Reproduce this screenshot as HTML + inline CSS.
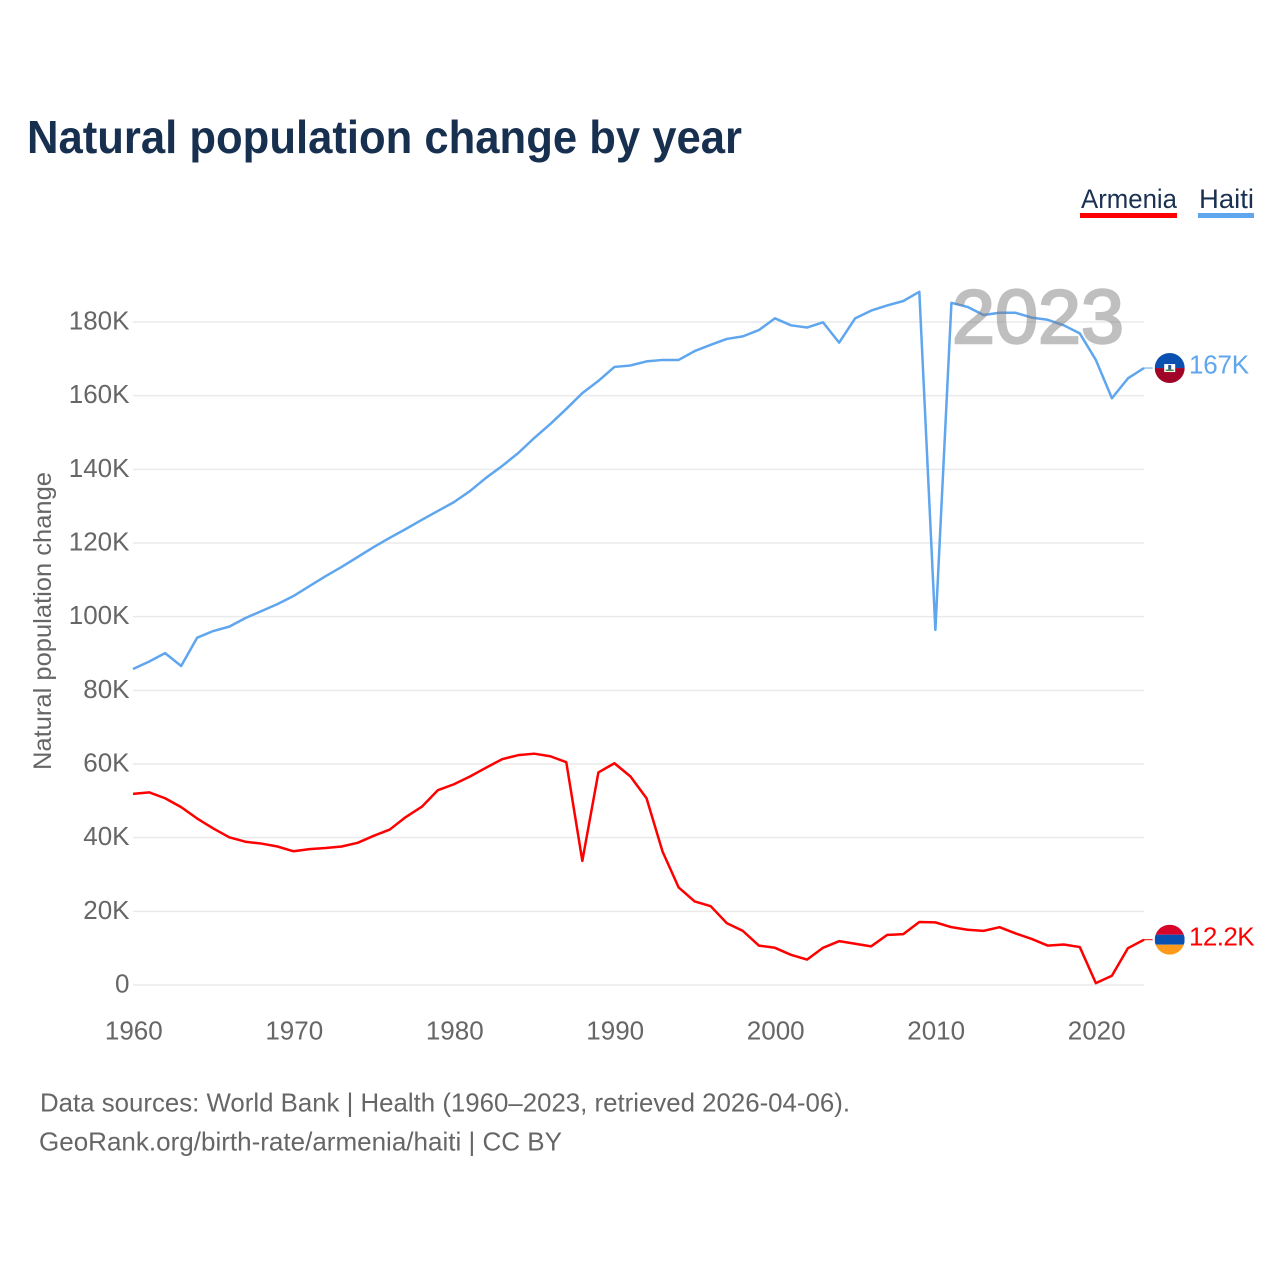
<!DOCTYPE html>
<html lang="en">
<head>
<meta charset="utf-8">
<title>Natural population change by year</title>
<style>
html,body{margin:0;padding:0;background:#fff;}
svg{display:block;font-family:"Liberation Sans",sans-serif;}
</style>
</head>
<body>
<svg id="chart" xmlns="http://www.w3.org/2000/svg" width="1280" height="1280" viewBox="0 0 1280 1280">
  <rect x="0" y="0" width="1280" height="1280" fill="#ffffff"/>
  <text x="27" y="153" font-size="46" font-weight="700" fill="#18304f" textLength="715" lengthAdjust="spacingAndGlyphs">Natural population change by year</text>

  <g>
    <text x="1081" y="208" font-size="27" fill="#1a3152" textLength="96" lengthAdjust="spacingAndGlyphs">Armenia</text>
    <rect x="1080" y="213" width="97" height="5" fill="#ff0000"/>
  </g>
  <g>
    <text x="1199" y="208" font-size="27" fill="#1a3152" textLength="55" lengthAdjust="spacingAndGlyphs">Haiti</text>
    <rect x="1198" y="213" width="56" height="5" fill="#5fa6ee"/>
  </g>

  <g id="grid"></g>
  <g id="ytickLabels"></g>
  <g id="xtickLabels"></g>
  <text transform="translate(51,621) rotate(-90)" text-anchor="middle" font-size="25" fill="#666666" textLength="298" lengthAdjust="spacingAndGlyphs">Natural population change</text>

  <g id="series"></g>
  <text x="952" y="343" font-size="76" fill="#808080" stroke="#808080" stroke-width="2.4" opacity="0.5" textLength="172" lengthAdjust="spacingAndGlyphs">2023</text>
  <g id="endMarkers"></g>

  <text x="40" y="1111.5" font-size="26" fill="#666666" textLength="810" lengthAdjust="spacingAndGlyphs">Data sources: World Bank | Health (1960–2023, retrieved 2026-04-06).</text>
  <text x="39" y="1150.5" font-size="26" fill="#666666" textLength="523" lengthAdjust="spacingAndGlyphs">GeoRank.org/birth-rate/armenia/haiti | CC BY</text>
</svg>
<script>
const years = [1960,1961,1962,1963,1964,1965,1966,1967,1968,1969,1970,1971,1972,1973,1974,1975,1976,1977,1978,1979,1980,1981,1982,1983,1984,1985,1986,1987,1988,1989,1990,1991,1992,1993,1994,1995,1996,1997,1998,1999,2000,2001,2002,2003,2004,2005,2006,2007,2008,2009,2010,2011,2012,2013,2014,2015,2016,2017,2018,2019,2020,2021,2022,2023];
const haitiValues = [85.8,87.8,90.1,86.6,94.3,96.1,97.3,99.6,101.5,103.4,105.6,108.3,111,113.5,116.2,118.9,121.4,123.8,126.3,128.7,131.1,134.1,137.7,140.9,144.4,148.5,152.3,156.4,160.7,164,167.8,168.2,169.3,169.7,169.7,172.1,173.8,175.4,176.1,177.8,181,179.1,178.5,179.9,174.4,181,183.1,184.5,185.7,188.2,96.4,185.2,184.1,181.9,182.5,182.5,181.2,180.6,179.1,176.9,169.7,159.3,164.7,167.5];
const armeniaValues = [51.9,52.3,50.7,48.3,45.2,42.5,40.1,38.9,38.4,37.6,36.3,36.9,37.2,37.6,38.6,40.5,42.2,45.6,48.4,52.9,54.5,56.6,59,61.3,62.4,62.8,62.1,60.5,33.7,57.7,60.2,56.6,50.7,36.2,26.5,22.7,21.4,16.8,14.7,10.7,10.1,8.2,6.9,10.1,11.9,11.2,10.5,13.6,13.8,17.1,17,15.7,15,14.7,15.7,14,12.5,10.7,11,10.3,0.5,2.5,10,12.3];
const yTickValues = [0,20,40,60,80,100,120,140,160,180];
const yTickLabels = ["0","20K","40K","60K","80K","100K","120K","140K","160K","180K"];
const xTickYears = [1960,1970,1980,1990,2000,2010,2020];
const haitiEndLabel = "167K";
const armeniaEndLabel = "12.2K";

const NS = "http://www.w3.org/2000/svg";
function xScale(year){ return 133 + (year - 1960) * (1144 - 133) / 63; }
function yScale(v){ return 985 - v * (985 - 322) / 180; }
function make(tag, attrs, parent, text){
  const el = document.createElementNS(NS, tag);
  for (const k in attrs) el.setAttribute(k, attrs[k]);
  if (text !== undefined) el.textContent = text;
  parent.appendChild(el);
  return el;
}

const grid = document.getElementById("grid");
const yLabels = document.getElementById("ytickLabels");
yTickValues.forEach(function(v, i){
  const line = make("line", {x1:133, x2:1144, y1:yScale(v), y2:yScale(v), stroke:"#eaeaea", "stroke-width":1.5}, grid);
  
  
  const t = make("text", {x:129.5, y:yScale(v)+7.5, "text-anchor":"end", "font-size":26, fill:"#666666"}, yLabels, yTickLabels[i]);
  
  
});

const xLabels = document.getElementById("xtickLabels");
xTickYears.forEach(function(yr){
  const t = make("text", {x:xScale(yr)+0.8, y:1039.5, "text-anchor":"middle", "font-size":26, fill:"#666666"}, xLabels, String(yr));
  
  
});

function linePoints(values){
  return values.map(function(v, i){ return xScale(years[i]).toFixed(2) + "," + yScale(v).toFixed(2); }).join(" ");
}
const seriesGroup = document.getElementById("series");
const armeniaLine = make("polyline", {points:linePoints(armeniaValues), fill:"none", stroke:"#ff0000", "stroke-width":2.5, "stroke-linejoin":"round"}, seriesGroup);


const haitiLine = make("polyline", {points:linePoints(haitiValues), fill:"none", stroke:"#5fa6ee", "stroke-width":2.5, "stroke-linejoin":"round"}, seriesGroup);



const markers = document.getElementById("endMarkers");
const defs = make("defs", {}, markers);
const cx = 1169.7;
const r = 15;
const lastX = xScale(years[years.length - 1]);

function addFlagClip(id, cy){
  const clip = make("clipPath", {id:id}, defs);
  make("circle", {cx:cx, cy:cy, r:r}, clip);
}

// Haiti marker
const hy = yScale(haitiValues[haitiValues.length - 1]);
addFlagClip("clipHaiti", hy);
const hConn = make("line", {x1:lastX, x2:cx-r-2, y1:hy, y2:hy, stroke:"#5fa6ee", "stroke-width":1}, markers);


const hFlag = make("g", {"clip-path":"url(#clipHaiti)"}, markers);


make("rect", {x:cx-r, y:hy-r, width:2*r, height:r, fill:"#0a50b0"}, hFlag);
make("rect", {x:cx-r, y:hy, width:2*r, height:r, fill:"#a00426"}, hFlag);
make("rect", {x:cx-5.5, y:hy-4, width:11, height:8, fill:"#ffffff"}, hFlag);
make("rect", {x:cx-1.5, y:hy-3, width:3, height:4.5, fill:"#2a5a8a"}, hFlag);
make("rect", {x:cx-4, y:hy+1.5, width:8, height:1.5, fill:"#3f8a3a"}, hFlag);
const hLabel = make("text", {x:1189, y:hy+5.5, "font-size":26, fill:"#5fa6ee", "letter-spacing":"-0.2"}, markers, haitiEndLabel);



// Armenia marker
const ay = yScale(armeniaValues[armeniaValues.length - 1]);
addFlagClip("clipArmenia", ay);
const aConn = make("line", {x1:lastX, x2:cx-r-2, y1:ay, y2:ay, stroke:"#ff0000", "stroke-width":1}, markers);


const aFlag = make("g", {"clip-path":"url(#clipArmenia)"}, markers);


make("rect", {x:cx-r, y:ay-r, width:2*r, height:10, fill:"#d90429"}, aFlag);
make("rect", {x:cx-r, y:ay-5, width:2*r, height:10, fill:"#0a50b0"}, aFlag);
make("rect", {x:cx-r, y:ay+5, width:2*r, height:10, fill:"#ff9a1a"}, aFlag);
const aLabel = make("text", {x:1189, y:ay+6, "font-size":26, fill:"#ff0000", "letter-spacing":"-0.6"}, markers, armeniaEndLabel);


</script>
</body>
</html>
